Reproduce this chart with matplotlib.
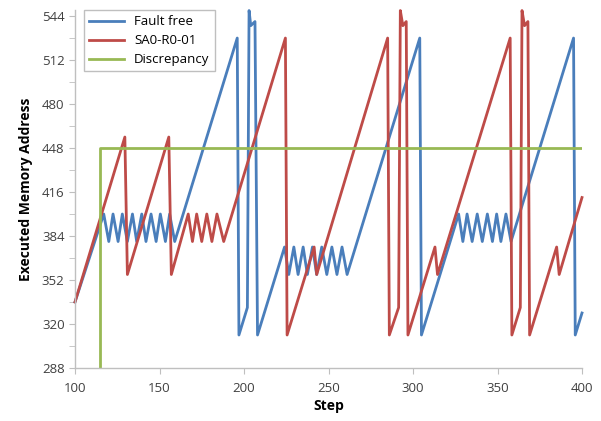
import numpy as np
import matplotlib
matplotlib.use("Agg")
import matplotlib.pyplot as plt

plt.rcParams['font.family'] = ['Open Sans', 'DejaVu Sans']

# vertices (step, address)
free_step = [100, 117, 120, 122.5, 125.5, 128, 131, 134, 136.5, 139.5, 142, 145, 148,
             150.5, 153.5, 156, 159, 196, 197, 202, 203, 204, 206.5, 208,
             224, 226.5, 229.5, 232, 235, 237.5, 240.5, 243, 246, 249, 252, 255, 258, 261,
             304, 305, 327, 329.5, 332, 335, 338, 341, 344, 347, 349.5, 352, 355, 358,
             395, 396, 400]
free_addr = [336, 400, 380, 400, 380, 400, 380, 400, 380, 400, 380, 400, 380,
             400, 380, 400, 380, 528, 312, 332, 548, 537, 540, 312,
             376, 356, 376, 356, 376, 356, 376, 356, 376, 356, 376, 356, 376, 356,
             528, 312, 400, 380, 400, 380, 400, 380, 400, 380, 400, 380, 400, 380,
             528, 312, 328]

fault_step = [100, 129.5, 131, 155.5, 157, 167, 169.5, 172, 175, 178, 181, 184, 188,
              224.5, 225.5, 241.5, 243, 285, 286, 291.5, 292.5, 294, 296, 297,
              313, 314.5, 357.5, 358.5, 363.5, 364.5, 366, 368, 369,
              385, 386.5, 400]
fault_addr = [336, 456, 356, 456, 356, 400, 380, 400, 380, 400, 380, 400, 380,
              528, 312, 376, 356, 528, 312, 332, 548, 537, 540, 312,
              376, 356, 528, 312, 332, 548, 537, 540, 312,
              376, 356, 412]

disc_step = [100, 115, 115, 400]
disc_addr = [0, 0, 448, 448]

fig = plt.figure(figsize=(6.01, 4.21), dpi=100)
ax = fig.add_axes([75 / 601, 1 - 368 / 421, 507 / 601, 358 / 421])

ax.plot(free_step, free_addr, color='#4A7EBB', lw=2, label='Fault free', clip_on=False)
ax.plot(fault_step, fault_addr, color='#BE4B48', lw=2, label='SA0-R0-01', clip_on=False)
ax.plot(disc_step, disc_addr, color='#98B954', lw=2, label='Discrepancy')

ax.set_xlim(100, 400)
ax.set_ylim(288, 548.4)
ax.set_xticks(np.arange(100, 401, 50))
ax.set_yticks(np.arange(288, 545, 32))
ax.set_yticks(np.arange(288, 545, 16), minor=True)

for s in ['top', 'right']:
    ax.spines[s].set_visible(False)
for s in ['left', 'bottom']:
    ax.spines[s].set_color('#BFBFBF')
    ax.spines[s].set_linewidth(1)
ax.tick_params(axis='both', which='both', color='#BFBFBF', length=4,
               labelsize=9.5, labelcolor='#404040')
ax.tick_params(axis='x', pad=6)

ax.set_xlabel('Step', fontsize=10, fontweight='bold', labelpad=3)
ax.set_ylabel('Executed Memory Address', fontsize=10, fontweight='bold', labelpad=6)

leg = ax.legend(loc='upper left', bbox_to_anchor=(84 / 601, 1 - 10 / 421),
                bbox_transform=fig.transFigure, fontsize=9.5, fancybox=False,
                framealpha=1, edgecolor='#BFBFBF', handlelength=2.6,
                borderpad=0.4, labelspacing=0.45, borderaxespad=0)
leg.get_frame().set_linewidth(1)

fig.savefig('out.png', dpi=100)
